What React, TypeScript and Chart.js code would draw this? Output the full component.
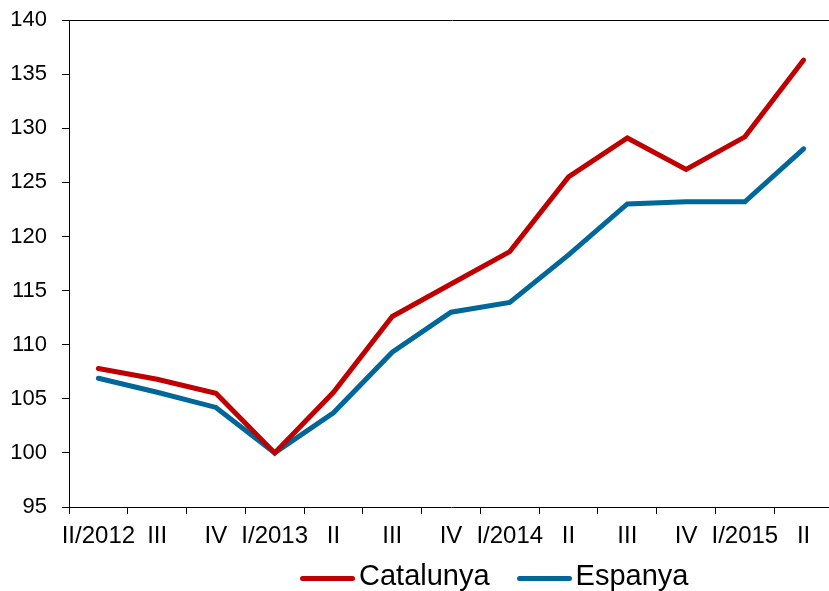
import React, { useEffect, useRef } from "react";
import { Chart, registerables } from "chart.js";

Chart.register(...registerables);

const categories = ["II/2012", "III", "IV", "I/2013", "II", "III", "IV", "I/2014", "II", "III", "IV", "I/2015", "II"];
const catalunya = [107.8, 106.8, 105.5, 100.0, 105.6, 112.6, 115.6, 118.6, 125.5, 129.1, 126.2, 129.2, 136.3];
const espanya = [106.9, 105.6, 104.2, 100.0, 103.7, 109.3, 113.0, 113.9, 118.3, 123.0, 123.2, 123.2, 128.1];
const seriesNames = ["Catalunya", "Espanya"];
const seriesColors = ["#C00000", "#00679A"];
const yMin = 95;
const yMax = 140;
const yStep = 5;

const FONT = "'Liberation Sans', Arial, sans-serif";

const topBorder = {
  id: "topBorder",
  afterDraw(chart: any) {
    const { ctx, chartArea } = chart;
    ctx.save();
    ctx.strokeStyle = "#000";
    ctx.lineWidth = 1;
    ctx.beginPath();
    ctx.moveTo(chartArea.left, Math.round(chartArea.top) + 0.5);
    ctx.lineTo(chart.width, Math.round(chartArea.top) + 0.5);
    ctx.stroke();
    ctx.restore();
  },
};

export default function App() {
  const ref = useRef<HTMLCanvasElement>(null);
  useEffect(() => {
    if (!ref.current) return;
    const chart = new Chart(ref.current, {
      type: "line",
      data: {
        labels: categories,
        datasets: [
          {
            label: seriesNames[0],
            data: catalunya,
            borderColor: seriesColors[0],
            backgroundColor: seriesColors[0],
            borderWidth: 5,
            pointRadius: 0,
            tension: 0,
            borderCapStyle: "round",
          },
          {
            label: seriesNames[1],
            data: espanya,
            borderColor: seriesColors[1],
            backgroundColor: seriesColors[1],
            borderWidth: 5,
            pointRadius: 0,
            tension: 0,
            borderCapStyle: "round",
          },
        ],
      },
      options: {
        responsive: false,
        animation: false,
        layout: { padding: { top: 20, right: 3, left: 0, bottom: 0 } },
        plugins: { legend: { display: false }, tooltip: { enabled: false } },
        scales: {
          x: {
            offset: true,
            grid: { display: true, offset: true, drawOnChartArea: false, drawTicks: true, tickLength: 7, color: "#000" },
            border: { display: true, color: "#000", width: 1 },
            ticks: { color: "#000", font: { family: FONT, size: 24 }, padding: 8, maxRotation: 0, autoSkip: false },
            afterFit: (s: any) => { s.height = 84; },
          },
          y: {
            min: yMin,
            max: yMax,
            grid: { display: true, drawOnChartArea: false, drawTicks: true, tickLength: 7, color: "#000" },
            border: { display: true, color: "#000", width: 1 },
            ticks: { stepSize: yStep, color: "#000", font: { family: FONT, size: 22 }, padding: 15 },
            afterFit: (s: any) => { s.width = 69; s.paddingTop = 0; s.paddingBottom = 0; },
          },
        },
      },
      plugins: [topBorder],
    });
    return () => chart.destroy();
  }, []);

  const legendItem = (name: string, color: string) => (
    <div style={{ display: "flex", alignItems: "center", height: 28 }}>
      <div style={{ width: 55, height: 5, background: color, borderRadius: 3, marginTop: 6 }} />
      <span style={{ marginLeft: 4, fontFamily: FONT, fontSize: 29, lineHeight: "28px", color: "#000" }}>{name}</span>
    </div>
  );

  return (
    <div style={{ position: "fixed", left: 0, top: 0, width: 829, height: 591, overflow: "hidden", background: "#fff" }}>
      <canvas ref={ref} width={836} height={591} style={{ display: "block" }} />
      <div style={{ position: "absolute", left: 300, top: 561, display: "flex", gap: 27 }}>
        {legendItem(seriesNames[0], seriesColors[0])}
        {legendItem(seriesNames[1], seriesColors[1])}
      </div>
    </div>
  );
}
